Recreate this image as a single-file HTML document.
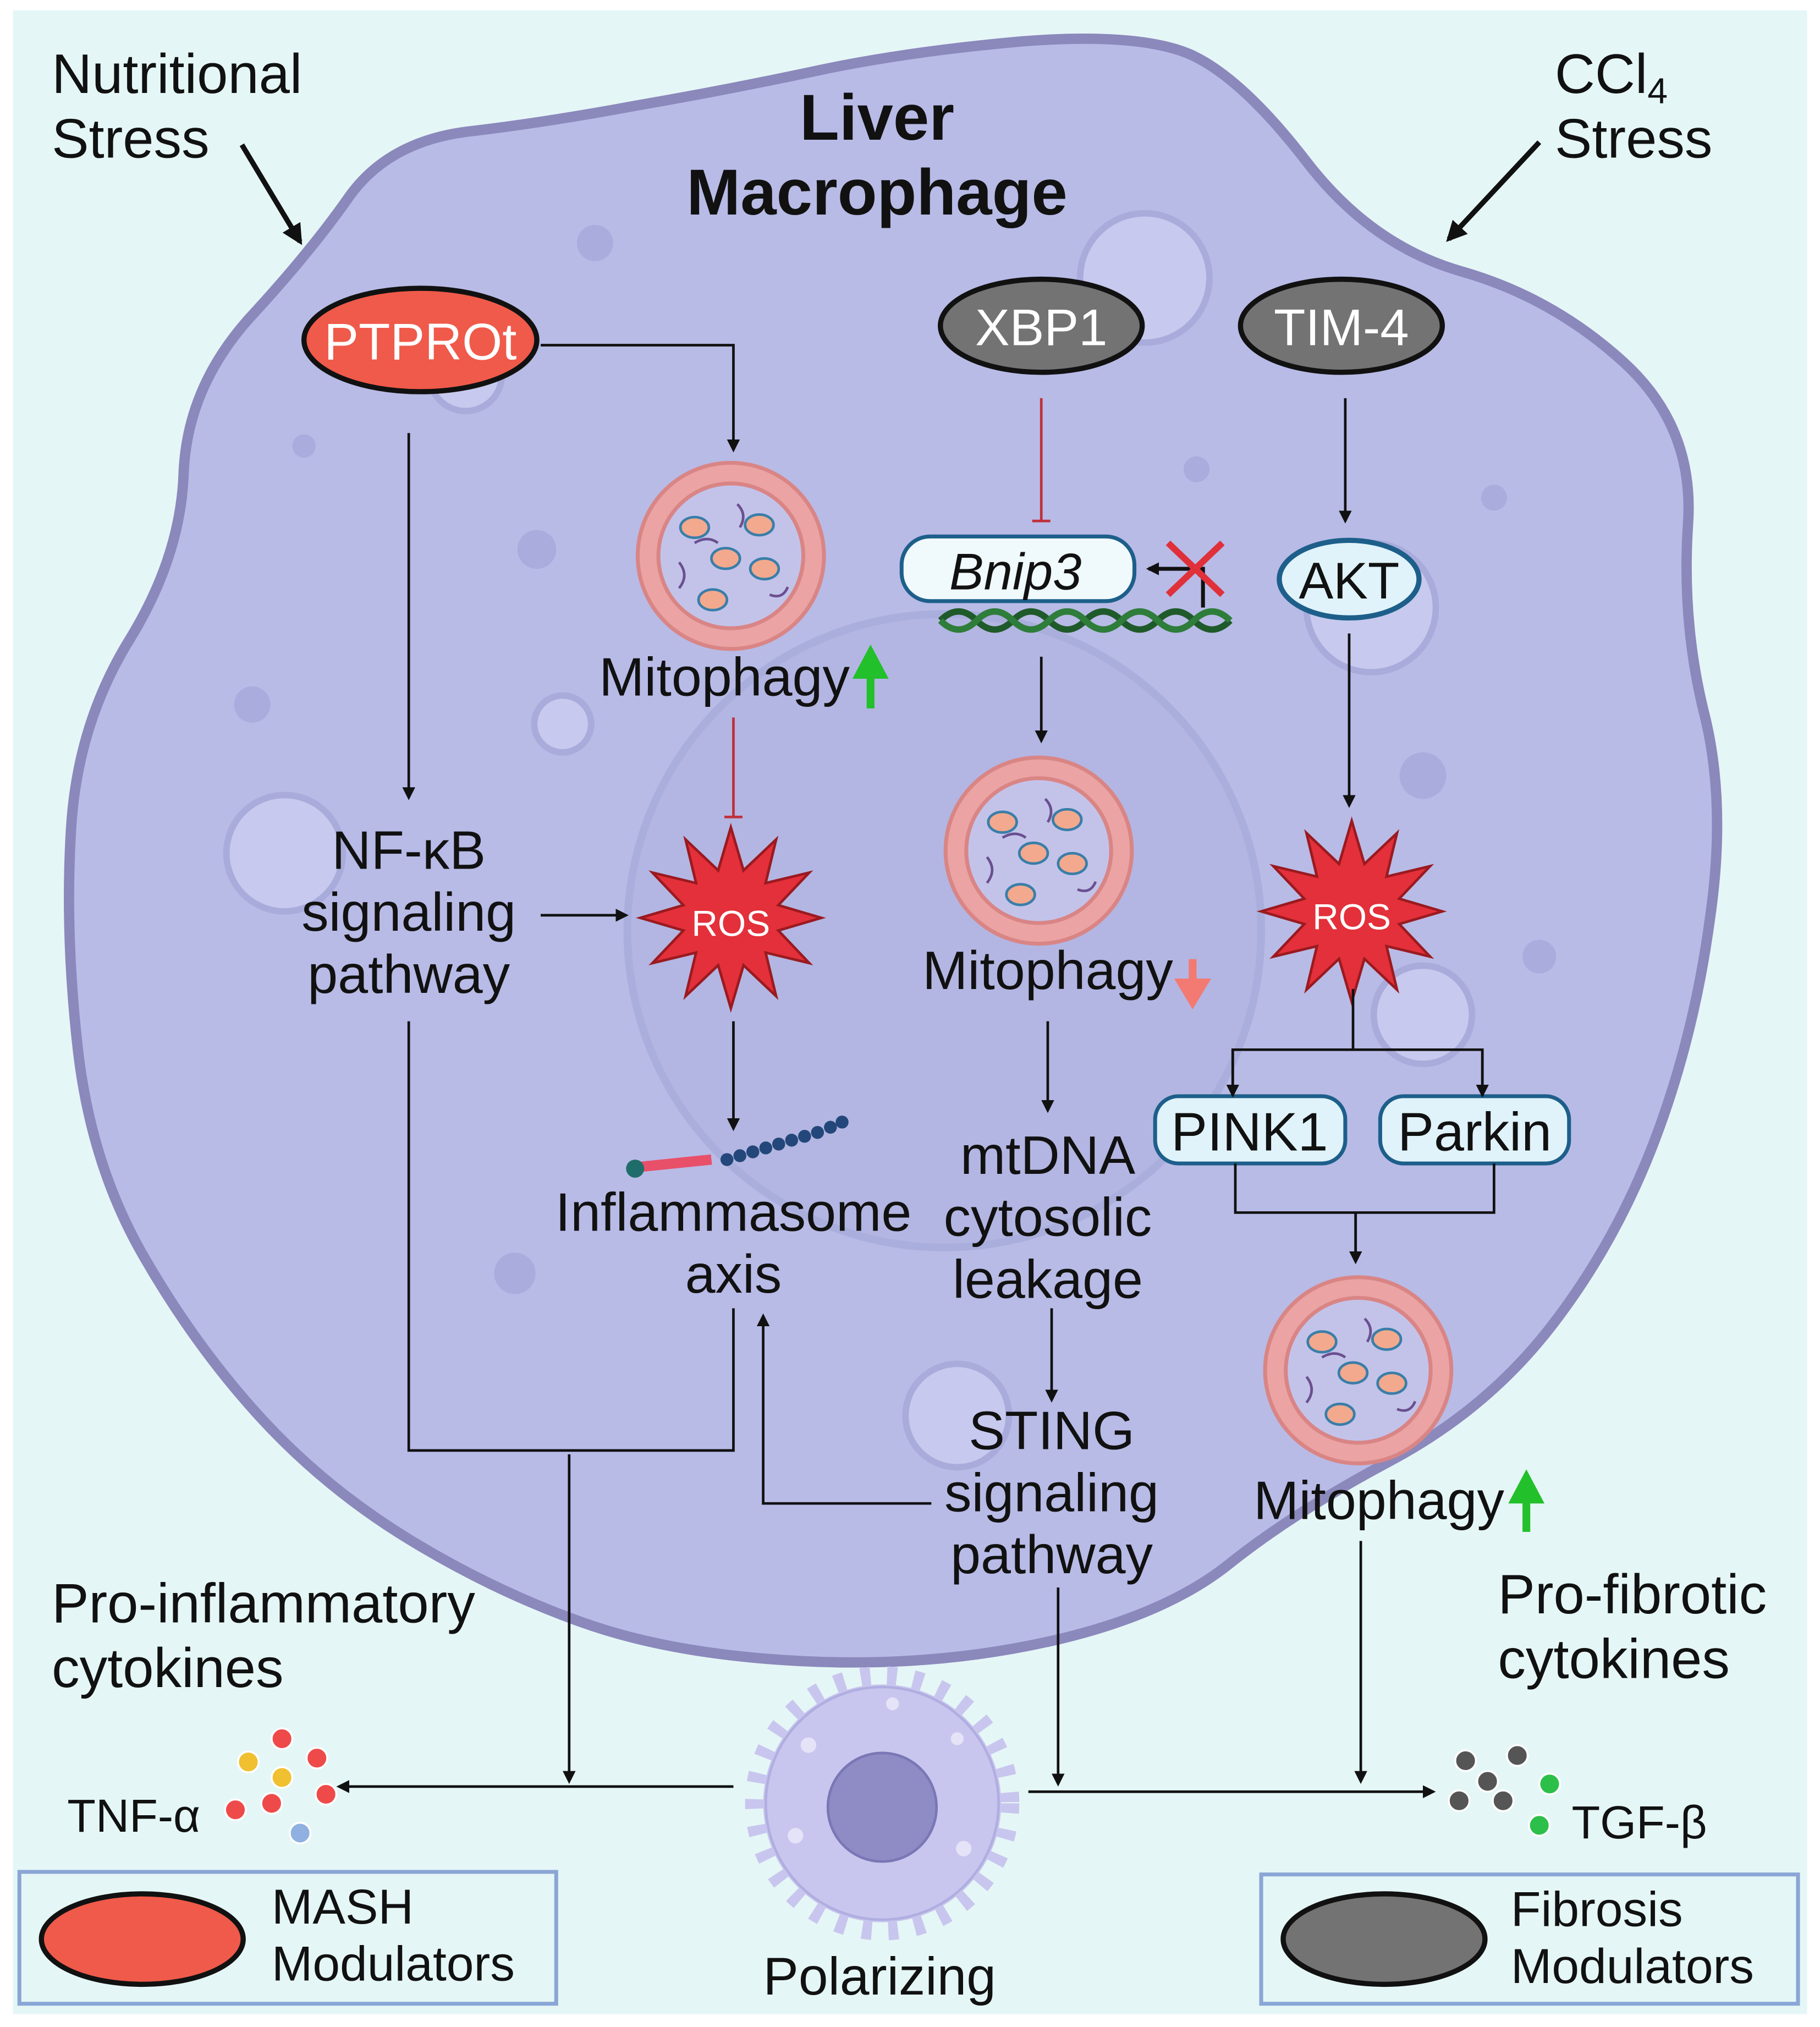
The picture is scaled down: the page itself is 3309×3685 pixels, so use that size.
<!DOCTYPE html>
<html><head><meta charset="utf-8"><style>
html,body{margin:0;padding:0;background:#fff;}
svg{display:block;}
text{font-family:"Liberation Sans",sans-serif;fill:#111;}
</style></head><body>
<svg width="3309" height="3685" viewBox="0 0 1407 1568" preserveAspectRatio="none" xmlns="http://www.w3.org/2000/svg">
<defs>
<marker id="ar" markerWidth="10" markerHeight="10" refX="8" refY="5" orient="auto" markerUnits="userSpaceOnUse">
<path d="M0,0 L10,5 L0,10 Z" fill="#111"/></marker>
<marker id="arb" markerWidth="16" markerHeight="16" refX="13" refY="8" orient="auto" markerUnits="userSpaceOnUse">
<path d="M0,0 L16,8 L0,16 Z" fill="#111"/></marker>
<polygon id="star" points="0,-70 9.8,-36.7 35,-60.6 26.9,-26.9 60.6,-35 36.7,-9.8 70,0 36.7,9.8 60.6,35 26.9,26.9 35,60.6 9.8,36.7 0,70 -9.8,36.7 -35,60.6 -26.9,26.9 -60.6,35 -36.7,9.8 -70,0 -36.7,-9.8 -60.6,-35 -26.9,-26.9 -35,-60.6 -9.8,-36.7" fill="#e3303a" stroke="#9a1a20" stroke-width="2"/>
<g id="mito">
<circle r="72" fill="#eba3a3" stroke="#d98585" stroke-width="3"/>
<circle r="56" fill="#c3c3ea" stroke="#d98585" stroke-width="3"/>
<ellipse cx="-28" cy="-22" rx="11" ry="8" fill="#f3a98e" stroke="#3a7ea8" stroke-width="2"/>
<ellipse cx="22" cy="-24" rx="11" ry="8" fill="#f3a98e" stroke="#3a7ea8" stroke-width="2"/>
<ellipse cx="-4" cy="2" rx="11" ry="8" fill="#f3a98e" stroke="#3a7ea8" stroke-width="2"/>
<ellipse cx="26" cy="10" rx="11" ry="8" fill="#f3a98e" stroke="#3a7ea8" stroke-width="2"/>
<ellipse cx="-14" cy="34" rx="11" ry="8" fill="#f3a98e" stroke="#3a7ea8" stroke-width="2"/>
<path d="M-40,5 q8,10 0,20 M5,-40 q8,8 2,18 M30,30 q10,4 14,-6 M-10,-10 q-8,-6 -18,0" stroke="#6a4f8f" stroke-width="2" fill="none"/>
</g>
</defs>
<rect x="0" y="0" width="1407" height="1568" fill="#fff"/>
<rect x="10" y="8" width="1387" height="1550" fill="#e5f6f6"/>
<path d="M 192,247 Q 240,195 270,152 Q 300,110 360,102 Q 420,95 490,82 Q 560,70 630,55 Q 700,40 790,32 Q 880,25 920,42 Q 960,60 1010,125 Q 1060,190 1130,210 Q 1200,230 1255,280 Q 1310,330 1305,405 Q 1300,480 1317,550 Q 1335,620 1322,710 Q 1310,800 1280,880 Q 1250,960 1200,1025 Q 1150,1090 1075,1130 Q 1000,1170 950,1210 Q 900,1250 810,1270 Q 720,1290 620,1285 Q 520,1280 450,1255 Q 380,1230 315,1190 Q 250,1150 200,1095 Q 150,1040 110,970 Q 70,900 60,810 Q 50,720 55,640 Q 60,560 100,495 Q 140,430 142,365 Q 145,300 192,247 Z" fill="#b8bbe6" stroke="#8b88bc" stroke-width="8"/>
<circle cx="730" cy="720" r="245" fill="#b3b6e2" stroke="#aaaedc" stroke-width="6"/>
<g fill="#c7c9ee" stroke="#a9abdb" stroke-width="5">
<circle cx="220" cy="660" r="45"/><circle cx="885" cy="215" r="50"/><circle cx="1060" cy="470" r="50"/>
<circle cx="740" cy="1095" r="40"/><circle cx="1100" cy="785" r="38"/><circle cx="435" cy="560" r="22"/>
<circle cx="360" cy="290" r="28"/>
</g>
<g fill="#a9acdc"><circle cx="460" cy="188" r="14"/><circle cx="415" cy="425" r="15"/><circle cx="195" cy="545" r="14"/><circle cx="398" cy="985" r="16"/><circle cx="1100" cy="600" r="18"/><circle cx="1190" cy="740" r="13"/><circle cx="925" cy="363" r="10"/><circle cx="235" cy="345" r="9"/><circle cx="1155" cy="385" r="10"/></g>

<text x="40" y="72" font-size="43">Nutritional</text>
<text x="40" y="122" font-size="43">Stress</text>
<text x="678" y="108" font-size="50" font-weight="bold" text-anchor="middle">Liver</text>
<text x="678" y="166" font-size="50" font-weight="bold" text-anchor="middle">Macrophage</text>
<text x="1202" y="72" font-size="43">CCl<tspan font-size="28" dy="8">4</tspan></text>
<text x="1202" y="122" font-size="43" dy="0">Stress</text>
<line x1="187" y1="112" x2="232" y2="187" stroke="#111" stroke-width="4" marker-end="url(#arb)"/>
<line x1="1190" y1="110" x2="1120" y2="185" stroke="#111" stroke-width="4" marker-end="url(#arb)"/>

<ellipse cx="325" cy="263" rx="90" ry="40" fill="#ef5a4a" stroke="#111" stroke-width="4"/>
<text x="325" y="278" font-size="40" text-anchor="middle" style="fill:#fff">PTPROt</text>
<ellipse cx="805" cy="252" rx="78" ry="36" fill="#737373" stroke="#111" stroke-width="4"/>
<text x="805" y="267" font-size="40" text-anchor="middle" style="fill:#fff">XBP1</text>
<ellipse cx="1037" cy="252" rx="78" ry="36" fill="#737373" stroke="#111" stroke-width="4"/>
<text x="1037" y="267" font-size="40" text-anchor="middle" style="fill:#fff">TIM-4</text>
<ellipse cx="1043" cy="448" rx="54" ry="30" fill="#e0f3fa" stroke="#1d5f8a" stroke-width="4"/>
<text x="1043" y="463" font-size="40" text-anchor="middle">AKT</text>

<path d="M727,480 q14,-14 28,0 t28,0 t28,0 t28,0 t28,0 t28,0 t28,0 t28,0" stroke="#1f5a2a" stroke-width="5" fill="none"/>
<path d="M727,480 q14,14 28,0 t28,0 t28,0 t28,0 t28,0 t28,0 t28,0 t28,0" stroke="#2e7d3a" stroke-width="5" fill="none"/>
<rect x="697" y="415" width="180" height="50" rx="22" fill="#f0fafd" stroke="#1d5f8a" stroke-width="3"/>
<text x="785" y="456" font-size="40" font-style="italic" text-anchor="middle">Bnip3</text>
<path d="M930,470 L930,440 L888,440" stroke="#111" stroke-width="3" fill="none" marker-end="url(#ar)"/>
<path d="M903,420 L945,460 M945,420 L903,460" stroke="#e0303a" stroke-width="5"/>

<use href="#mito" x="565" y="430"/>
<use href="#mito" x="803" y="658"/>
<use href="#mito" x="1050" y="1060"/>
<use href="#star" x="565" y="710"/>
<use href="#star" x="1045" y="705"/>
<text x="565" y="724" font-size="28" text-anchor="middle" style="fill:#fff">ROS</text>
<text x="1045" y="719" font-size="28" text-anchor="middle" style="fill:#fff">ROS</text>

<text x="560" y="538" font-size="42" text-anchor="middle">Mitophagy</text>
<path d="M673,548 L673,522 M664,522 L673,505 L682,522 Z" stroke="#22c02a" stroke-width="6" fill="#22c02a"/>
<text x="810" y="765" font-size="42" text-anchor="middle">Mitophagy</text>
<path d="M922,742 L922,760 M913,760 L922,775 L931,760 Z" stroke="#f27a72" stroke-width="6" fill="#f27a72"/>
<text x="1066" y="1175" font-size="42" text-anchor="middle">Mitophagy</text>
<path d="M1180,1185 L1180,1160 M1171,1160 L1180,1143 L1189,1160 Z" stroke="#22c02a" stroke-width="6" fill="#22c02a"/>

<text x="316" y="672" font-size="42" text-anchor="middle">NF-κB</text>
<text x="316" y="720" font-size="42" text-anchor="middle">signaling</text>
<text x="316" y="768" font-size="42" text-anchor="middle">pathway</text>
<text x="567" y="952" font-size="42" text-anchor="middle">Inflammasome</text>
<text x="567" y="1000" font-size="42" text-anchor="middle">axis</text>
<text x="810" y="908" font-size="42" text-anchor="middle">mtDNA</text>
<text x="810" y="956" font-size="42" text-anchor="middle">cytosolic</text>
<text x="810" y="1004" font-size="42" text-anchor="middle">leakage</text>
<text x="813" y="1121" font-size="42" text-anchor="middle">STING</text>
<text x="813" y="1169" font-size="42" text-anchor="middle">signaling</text>
<text x="813" y="1217" font-size="42" text-anchor="middle">pathway</text>

<rect x="893" y="848" width="147" height="52" rx="18" fill="#e0f3fa" stroke="#1d5f8a" stroke-width="3"/>
<text x="966" y="890" font-size="42" text-anchor="middle">PINK1</text>
<rect x="1067" y="848" width="146" height="52" rx="18" fill="#e0f3fa" stroke="#1d5f8a" stroke-width="3"/>
<text x="1140" y="890" font-size="42" text-anchor="middle">Parkin</text>

<line x1="491" y1="903" x2="550" y2="897" stroke="#e8506a" stroke-width="8"/>
<circle cx="491" cy="904" r="7" fill="#1f6d6a"/>
<g fill="#23477a"><circle cx="562" cy="897" r="5"/><circle cx="572" cy="894" r="5"/><circle cx="582" cy="891" r="5"/><circle cx="592" cy="888" r="5"/><circle cx="602" cy="885" r="5"/><circle cx="612" cy="882" r="5"/><circle cx="622" cy="879" r="5"/><circle cx="632" cy="876" r="5"/><circle cx="642" cy="872" r="5"/><circle cx="651" cy="868" r="5"/></g>

<g stroke="#111" stroke-width="2" fill="none">
<path d="M418,267 L567,267 L567,348" marker-end="url(#ar)"/>
<path d="M316,335 L316,617" marker-end="url(#ar)"/>
<path d="M418,708 L484,708" marker-end="url(#ar)"/>
<path d="M567,790 L567,873" marker-end="url(#ar)"/>
<path d="M316,790 L316,1122 L567,1122 L567,1012"/>
<path d="M440,1125 L440,1378" marker-end="url(#ar)"/>
<path d="M567,1382 L262,1382" marker-end="url(#ar)"/>
<path d="M720,1163 L590,1163 L590,1018" marker-end="url(#ar)"/>
<path d="M805,508 L805,573" marker-end="url(#ar)"/>
<path d="M810,790 L810,859" marker-end="url(#ar)"/>
<path d="M813,1012 L813,1083" marker-end="url(#ar)"/>
<path d="M818,1228 L818,1380" marker-end="url(#ar)"/>
<path d="M795,1386 L1108,1386" marker-end="url(#ar)"/>
<path d="M1040,308 L1040,403" marker-end="url(#ar)"/>
<path d="M1043,490 L1043,623" marker-end="url(#ar)"/>
<path d="M1046,765 L1046,812 M953,848 L953,812 L1146,812 L1146,848"/>
<path d="M953,812 L953,847" marker-end="url(#ar)"/>
<path d="M1146,812 L1146,847" marker-end="url(#ar)"/>
<path d="M955,900 L955,938 L1155,938 L1155,900 M1048,938 L1048,976"/>
<path d="M1048,938 L1048,976" marker-end="url(#ar)"/>
<path d="M1052,1192 L1052,1378" marker-end="url(#ar)"/>
</g>
<g stroke="#c0303a" stroke-width="2"><path d="M567,555 L567,632 M560,632 L574,632"/><path d="M805,308 L805,403 M798,403 L812,403"/></g>

<text x="40" y="1255" font-size="43">Pro-inflammatory</text>
<text x="40" y="1305" font-size="43">cytokines</text>
<text x="1158" y="1248" font-size="43">Pro-fibrotic</text>
<text x="1158" y="1298" font-size="43">cytokines</text>
<text x="52" y="1417" font-size="36">TNF-α</text>
<text x="1215" y="1422" font-size="36">TGF-β</text>
<g stroke="#fff" stroke-width="1.5">
<circle cx="218" cy="1345" r="8" fill="#ee4a4a"/><circle cx="192" cy="1363" r="8" fill="#f0c030"/><circle cx="245" cy="1360" r="8" fill="#ee4a4a"/>
<circle cx="218" cy="1375" r="8" fill="#f0c030"/><circle cx="182" cy="1400" r="8" fill="#ee4a4a"/><circle cx="210" cy="1395" r="8" fill="#ee4a4a"/>
<circle cx="252" cy="1388" r="8" fill="#ee4a4a"/><circle cx="232" cy="1418" r="8" fill="#8fb0e0"/>
<circle cx="1133" cy="1362" r="8" fill="#555"/><circle cx="1173" cy="1358" r="8" fill="#555"/><circle cx="1150" cy="1378" r="8" fill="#555"/>
<circle cx="1128" cy="1393" r="8" fill="#555"/><circle cx="1162" cy="1393" r="8" fill="#555"/><circle cx="1198" cy="1380" r="8" fill="#2cc04a"/><circle cx="1190" cy="1412" r="8" fill="#2cc04a"/>
</g>

<circle cx="682" cy="1395" r="92" fill="#c8c6ee" stroke="#c8c6ee" stroke-width="28" stroke-dasharray="7 12"/>
<circle cx="682" cy="1395" r="90" fill="#c8c6ee" stroke="#b0aee0" stroke-width="2"/>
<circle cx="682" cy="1398" r="42" fill="#8e8bc5" stroke="#7a77b5" stroke-width="2"/>
<g fill="#e4e3f7"><circle cx="625" cy="1350" r="6"/><circle cx="740" cy="1345" r="5"/><circle cx="615" cy="1420" r="6"/><circle cx="745" cy="1430" r="6"/><circle cx="690" cy="1318" r="5"/></g>
<text x="680" y="1543" font-size="41" text-anchor="middle">Polarizing</text>

<rect x="15" y="1448" width="415" height="102" fill="#e5f6f6" stroke="#8aa6d6" stroke-width="3"/>
<ellipse cx="110" cy="1500" rx="78" ry="35" fill="#ef5a4a" stroke="#111" stroke-width="4"/>
<text x="210" y="1488" font-size="38">MASH</text>
<text x="210" y="1532" font-size="38">Modulators</text>
<rect x="975" y="1450" width="415" height="100" fill="#e5f6f6" stroke="#8aa6d6" stroke-width="3"/>
<ellipse cx="1070" cy="1500" rx="78" ry="35" fill="#737373" stroke="#111" stroke-width="4"/>
<text x="1168" y="1490" font-size="38">Fibrosis</text>
<text x="1168" y="1534" font-size="38">Modulators</text>
</svg>
</body></html>
